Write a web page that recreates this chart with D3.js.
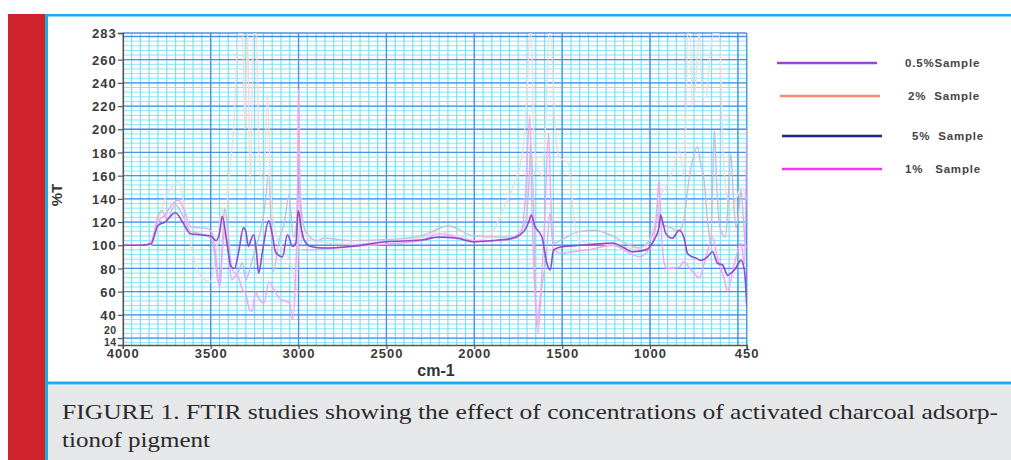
<!DOCTYPE html>
<html>
<head>
<meta charset="utf-8">
<script src="https://cdn.jsdelivr.net/npm/d3@7"></script>
<style>
  body { margin: 0; background: #fff; }
  svg { display: block; }
  .tick text { font-family: "Liberation Sans", Arial, sans-serif; font-weight: bold; fill: #3a3a3a; }
</style>
</head>
<body>
<div id="chart"></div>
<script>
// series values (wavenumber cm-1, %T)
var s05_x = [4000,3900,3840,3800,3760,3700,3660,3615,3560,3500,3470,3450,3434,3410,3385,3364,3340,3314,3300,3286,3270,3255,3240,3227,3205,3170,3150,3130,3092,3063,3034,3015,3002,2985,2968,2930,2850,2700,2500,2300,2200,2100,2000,1900,1800,1750,1713,1690,1676,1655,1640,1615,1587,1568,1549,1501,1400,1300,1215,1150,1100,1025,977,950,939,925,910,873,834,806,787,760,739,711,673,644,616,587,558,540,520,482,463,450];
var s05_y = [100,100,101,117,120,128,120,110,109,108,104,110,125,105,82,80,95,115,112,99,105,109,95,76,95,121,110,94,90,109,99,102,130,115,104.5,99,97.6,99,103,104.5,107,106,103,104,105.5,108,113,120,126,116,113,107,84.5,78.7,96,98.7,100,101,102,98,94.4,96,104.5,115,126,118,110,106,113,106,93,90,89,87,90,94.4,84.5,83,74,76,78.6,87,78.6,48];

var s2_x = [4000,3880,3840,3800,3760,3720,3684,3650,3606,3568,3530,3501,3480,3460,3434,3420,3400,3370,3340,3320,3305,3290,3275,3255,3240,3225,3200,3176,3160,3130,3100,3060,3030,3010,2995,2980,2950,2900,2700,2500,2300,2200,2100,2000,1950,1900,1844,1787,1730,1700,1685,1675,1660,1647,1615,1590,1575,1565,1540,1516,1463,1434,1406,1300,1200,1100,1050,1000,970,949,910,870,834,806,795,787,770,760,740,720,700,682,660,640,606,590,570,540,510,480,450];
var s2_y = [100,100,100,118,140,150,155,135,96,76,70,68.6,80,105,133,100,150,200,283,283,200,283,150,283,283,180,150,230,150,110,100,90,75,60,150,125,108,103,101,103,106,112,108,104,105,110,128,147.6,176,230,283,283,190,171,160,220,283,283,200,176,170,124.6,104.5,101,100,97,95,105,125,142,150,165,182,160,220,283,283,220,240,283,228,228,260,283,283,200,150,130,140,150,140];

var s5_x = [4000,3880,3840,3800,3777,3750,3700,3660,3615,3560,3500,3480,3460,3445,3434,3420,3400,3380,3350,3320,3300,3280,3250,3220,3195,3170,3144,3110,3080,3055,3028,3010,3000,2990,2960,2893,2856,2700,2480,2300,2149,2000,1827,1787,1713,1690,1678,1660,1645,1625,1610,1590,1570,1555,1540,1500,1400,1313,1215,1100,1063,1000,977,950,930,880,840,810,779,755,730,712,692,672,654,644,634,620,606,590,570,555,540,525,511,495,482,468,455,450];
var s5_y = [100,100,102,125,130,122,135,126,112,110,106,95,70,66,100,132,110,80,75,85,70,78,95,110,130,160,77,105,120,143,107,120,190,140,112,104,106,104,105,108,116.6,108,107,107,118,150,188,120,30,55,70,90,128,105,102,105,112,113,108,99,97.6,105,113,128,118,115,112,120,156,175,185,170,156,120,102,150,199,150,119,110,107,140,179,140,115,130,147.6,120,98,100];

var s1_x = [4000,3880,3840,3800,3760,3720,3682,3650,3615,3560,3520,3491,3470,3450,3434,3420,3400,3380,3350,3320,3300,3280,3263,3245,3230,3197,3168,3140,3101,3075,3050,3034,3018,3005,3000,2993,2977,2950,2850,2700,2500,2300,2200,2100,2000,1900,1800,1740,1710,1684,1670,1655,1638,1620,1600,1577,1565,1549,1500,1463,1349,1215,1100,1063,1000,987,965,949,935,920,903,834,806,779,750,720,682,644,625,606,580,558,540,520,482,463,455,450];
var s1_y = [100,100,103,120,126,135,139,130,116,115,114.6,110,90,64,95,112,95,70,75,62,58,45,43,60,55,50,68.6,62,53,52,50,36,70,150,235,160,96,96,97,99,101,104,110,107,104,104,105,108,140,211,120,60,24,60,120,197,140,96,93,94,96,100,92,90,98,102,120,156,110,85,80,81,86,81,76,72,90,107,95,84,72,60,70,84,102,84,130,200];

var seriesNames = ["0.5%Sample", "2%  Sample", "5%  Sample", "1%   Sample"];
var legendColors = ["#9b45d6", "#f0906e", "#23238c", "#ff33ee"];
var plotColors = ["#9448cc", "#efdcdc", "#c6bedf", "#f4a2f2"];

var yTicks = [14, 20, 40, 60, 80, 100, 120, 140, 160, 180, 200, 220, 240, 260, 283];
var xTicks = [4000, 3500, 3000, 2500, 2000, 1500, 1000, 450];

var width = 1011, height = 460;

var svg = d3.select("#chart").append("svg")
  .attr("width", width)
  .attr("height", height);

// page frame
svg.append("rect").attr("x", 8).attr("y", 14).attr("width", 37).attr("height", 446).attr("fill", "#d0222a");
svg.append("rect").attr("x", 48).attr("y", 385).attr("width", 963).attr("height", 75).attr("fill", "#e6e7e9");
svg.append("rect").attr("x", 45).attr("y", 14).attr("width", 966).attr("height", 2.5).attr("fill", "#19aee6");
svg.append("rect").attr("x", 45).attr("y", 14).attr("width", 3).attr("height", 446).attr("fill", "#19aee6");
svg.append("rect").attr("x", 45).attr("y", 381.5).attr("width", 966).attr("height", 3).attr("fill", "#19aee6");

var x = d3.scaleLinear().domain([4000, 450]).range([122.8, 746.7]);
var y = d3.scaleLinear().domain([14, 283]).range([345, 33]);

// grid
var grid = svg.append("g");
grid.selectAll(".hmin").data(d3.range(16, 283, 4)).enter().append("line")
  .attr("x1", x(4000)).attr("x2", x(450))
  .attr("y1", d => y(d)).attr("y2", d => y(d))
  .attr("stroke", "#86e6f6").attr("stroke-width", 1);
grid.selectAll(".vmin").data(d3.range(450, 4000, 50)).enter().append("line")
  .attr("x1", d => x(d)).attr("x2", d => x(d))
  .attr("y1", y(283)).attr("y2", y(14))
  .attr("stroke", "#78e2f6").attr("stroke-width", 1.2);
grid.selectAll(".hmaj").data(d3.range(20, 281, 20).concat([283])).enter().append("line")
  .attr("x1", x(4000)).attr("x2", x(450))
  .attr("y1", d => y(d)).attr("y2", d => y(d))
  .attr("stroke", "#4a90e6").attr("stroke-width", 1.3);
grid.selectAll(".vmaj").data([3500, 3000, 2500, 2000, 1500, 1000, 500, 450]).enter().append("line")
  .attr("x1", d => x(d)).attr("x2", d => x(d))
  .attr("y1", y(283)).attr("y2", y(14))
  .attr("stroke", "#4a90e6").attr("stroke-width", 1.3);

// spectra
svg.append("clipPath").attr("id", "plotclip").append("rect")
  .attr("x", x(4000)).attr("y", y(283)).attr("width", x(450) - x(4000)).attr("height", y(14) - y(283));

var series = [
  {x: s05_x, y: s05_y},
  {x: s2_x, y: s2_y},
  {x: s5_x, y: s5_y},
  {x: s1_x, y: s1_y}
];
var line = d3.line().x(d => x(d[0])).y(d => y(d[1])).curve(d3.curveMonotoneX);
var drawOrder = [1, 2, 3, 0];
drawOrder.forEach(function(i) {
  var pts = d3.zip(series[i].x, series[i].y);
  svg.append("path")
    .datum(pts)
    .attr("clip-path", "url(#plotclip)")
    .attr("fill", "none")
    .attr("stroke", plotColors[i])
    .attr("stroke-width", i == 0 ? 1.6 : 1.4)
    .attr("d", line);
});

// axes
var yAxis = svg.append("g").attr("transform", "translate(" + x(4000) + ",0)")
  .call(d3.axisLeft(y).tickValues(yTicks).tickSize(5).tickPadding(1));
var xAxis = svg.append("g").attr("transform", "translate(0," + y(14) + ")")
  .call(d3.axisBottom(x).tickValues(xTicks).tickFormat(d3.format("d")).tickSize(4).tickPadding(0));
[yAxis, xAxis].forEach(function(a) {
  a.select(".domain").attr("stroke", "#555").attr("stroke-width", 1.6);
  a.selectAll(".tick line").attr("stroke", "#555").attr("stroke-width", 1.2);
  a.selectAll(".tick text").style("font-size", "13px").style("letter-spacing", "1px");
});
yAxis.selectAll(".tick text").attr("dy", "0.36em");
// the two bottom labels sit close together, as in the figure
yAxis.selectAll(".tick text").filter(d => d == 20 || d == 14)
  .style("font-size", "10.5px").style("letter-spacing", "0.6px");
yAxis.selectAll(".tick text").filter(d => d == 20).attr("dy", "-0.45em");
yAxis.selectAll(".tick text").filter(d => d == 14).attr("dy", "0.05em");

svg.append("text")
  .attr("transform", "translate(62,195) rotate(-90)")
  .attr("text-anchor", "middle")
  .style("font-family", "Liberation Sans, Arial, sans-serif")
  .style("font-weight", "bold").style("font-size", "15px").attr("fill", "#333")
  .text("%T");

svg.append("text")
  .attr("x", 436).attr("y", 376)
  .attr("text-anchor", "middle")
  .style("font-family", "Liberation Sans, Arial, sans-serif")
  .style("font-weight", "bold").style("font-size", "16px").attr("fill", "#333")
  .text("cm-1");

// legend
var legY = [63, 96, 136, 169];
var legX1 = [777, 780, 782, 782];
var legTx = [905, 908, 912, 905];
var leg = svg.append("g");
seriesNames.forEach(function(n, i) {
  leg.append("line")
    .attr("x1", legX1[i]).attr("x2", legX1[i] + 100)
    .attr("y1", legY[i]).attr("y2", legY[i])
    .attr("stroke", legendColors[i]).attr("stroke-width", 2.5);
  leg.append("text")
    .attr("x", legTx[i]).attr("y", legY[i] + 4)
    .attr("xml:space", "preserve")
    .style("white-space", "pre")
    .style("font-family", "Liberation Sans, Arial, sans-serif")
    .style("font-weight", "bold").style("font-size", "11.5px")
    .style("letter-spacing", "0.8px")
    .attr("fill", "#444")
    .text(n);
});

// caption
svg.append("text")
  .attr("x", 62).attr("y", 419)
  .attr("textLength", 936).attr("lengthAdjust", "spacingAndGlyphs")
  .style("font-family", "Liberation Serif, serif").style("font-size", "22px")
  .attr("fill", "#2a2a2a")
  .text("FIGURE 1. FTIR studies showing the effect of concentrations of activated charcoal  adsorp-");
svg.append("text")
  .attr("x", 62).attr("y", 447)
  .attr("textLength", 148).attr("lengthAdjust", "spacingAndGlyphs")
  .style("font-family", "Liberation Serif, serif").style("font-size", "22px")
  .attr("fill", "#2a2a2a")
  .text("tionof pigment");
</script>
</body>
</html>
